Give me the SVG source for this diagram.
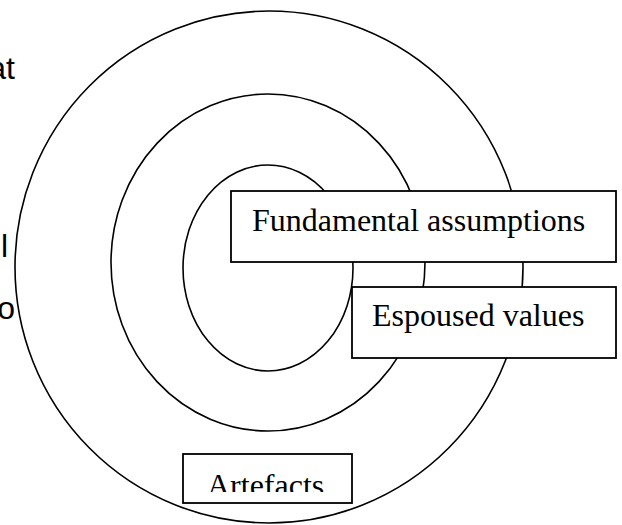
<svg xmlns="http://www.w3.org/2000/svg" width="622" height="525" viewBox="0 0 622 525">
<style>
.ring{fill:none;stroke:#000;stroke-width:1.6}
.box{fill:#fff;stroke:#000;stroke-width:1.8}
.lbl{font-family:"Liberation Serif","Times New Roman",serif;font-size:32px;fill:#000}
.side{font-family:"Liberation Sans",Arial,sans-serif;font-size:32px;fill:#000}
</style>
<defs>
<clipPath id="artClip"><rect x="183" y="454" width="169" height="38"/></clipPath>
</defs>
<rect width="622" height="525" fill="#fff"/>
<g id="side-text">
<text class="side" x="15" y="79" text-anchor="end">at</text>
<text class="side" x="8" y="257" text-anchor="end">l</text>
<text class="side" x="15" y="319" text-anchor="end">o</text>
</g>
<g id="rings">
<ellipse id="outer" class="ring" cx="269" cy="267" rx="254" ry="256"/>
<ellipse id="middle" class="ring" cx="268" cy="262.5" rx="157" ry="168.5"/>
<ellipse id="inner" class="ring" cx="268" cy="268" rx="85" ry="103"/>
</g>
<g id="fundamental">
<rect class="box" x="231" y="191" width="385" height="71"/>
<text class="lbl" x="252" y="231">Fundamental assumptions</text>
</g>
<g id="espoused">
<rect class="box" x="352" y="287" width="264" height="71"/>
<text class="lbl" x="372" y="326">Espoused values</text>
</g>
<g id="artefacts">
<rect class="box" x="183" y="454" width="169" height="49"/>
<text class="lbl" x="207" y="496" clip-path="url(#artClip)">Artefacts</text>
</g>
</svg>
